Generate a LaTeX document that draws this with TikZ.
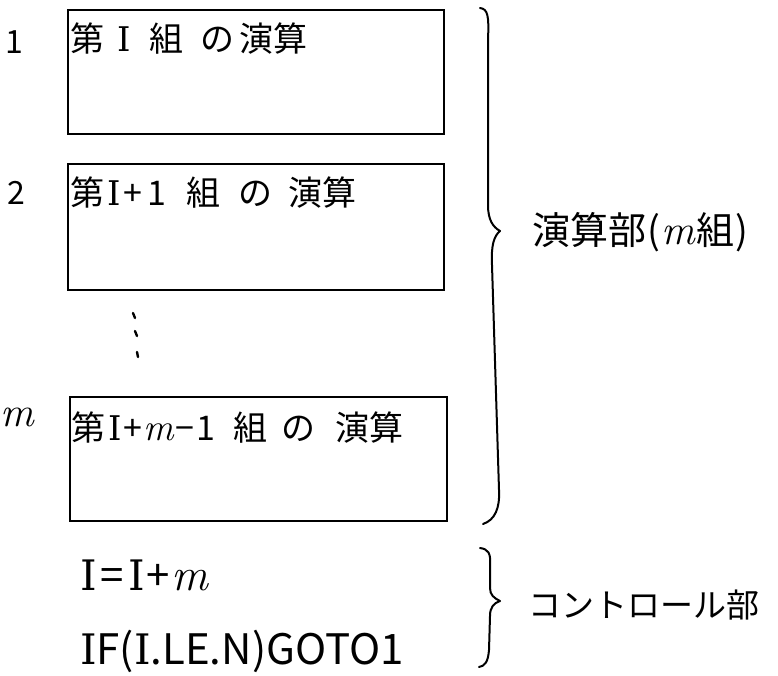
\documentclass[tikz,border=0pt]{standalone}
\usepackage{fontspec}
\newfontfamily\jp{Noto Sans CJK JP}
\newfontfamily\serifI{DejaVu Serif}
\newfontfamily\lmr{Latin Modern Roman}
\newcommand{\Ich}{{\serifI I}}
\newcommand{\mvar}{{\lmr\itshape m}}
\begin{document}
\begin{tikzpicture}[x=1pt,y=-1pt,
  opbox/.style={draw, line width=1.8pt, anchor=north west, inner sep=0pt, minimum width=376pt, minimum height=124pt},
  boxtext/.style={anchor=west, inner sep=0pt, font=\jp\fontsize{34}{40}\selectfont},
  numlabel/.style={inner sep=0pt, font=\jp\fontsize{32}{38}\selectfont},
  sidetext/.style={anchor=west, inner sep=0pt, font=\jp\fontsize{38}{44}\selectfont},
  codetext/.style={anchor=base west, inner sep=0pt, font=\jp\fontsize{42}{48}\selectfont},
  bracepath/.style={line width=2pt, line cap=round, line join=round},
  dotstroke/.style={line width=2.4pt, line cap=round}]
\useasboundingbox (0,0) rectangle (778,675);
% boxes
\node[opbox] (b1) at (67,9) {};
\node[opbox, minimum height=126pt] (b2) at (67,163) {};
\node[opbox, minimum width=377pt] (b3) at (69,396) {};
% box texts
\node[boxtext] (t1) at ([xshift=3pt,yshift=-30pt]b1.north west) {第\hspace{13pt}\Ich\hspace{19pt}組\hspace{17pt}の\hspace{5pt}演算};
\node[boxtext] (t2) at ([xshift=3pt,yshift=-30pt]b2.north west) {第\hspace{3pt}\Ich\hspace{3pt}+\hspace{5pt}1\hspace{20pt}組\hspace{18pt}の\hspace{16pt}演算};
\node[boxtext] (t3) at ([xshift=2pt,yshift=-32pt]b3.north west) {第\hspace{3pt}\Ich\hspace{2pt}+\hspace{1pt}{\fontsize{38}{40}\selectfont\mvar}\hspace{2pt}−\hspace{2pt}1\hspace{18pt}組\hspace{14pt}の\hspace{20pt}演算};
% row numbers
\node[numlabel] (n1) at (14,42) {1};
\node[numlabel] (n2) at (16,193) {2};
\node[numlabel, font=\fontsize{42}{46}\selectfont] (nm) at (17,417) {\mvar};
% vertical dots
\draw[dotstroke] (133,313) -- (135,318);
\draw[dotstroke] (135,331) -- (137,336);
\draw[dotstroke] (137,352) -- (138,357);
% big brace
\draw[bracepath] (480,8) .. controls (488,9) and (489,16) .. (488,40)
  -- (488,205) .. controls (488,220) and (493,227) .. (500,231)
  .. controls (494,236) and (491,245) .. (492,265)
  -- (499,490) .. controls (500,508) and (495,520) .. (483,524);
\node[sidetext] (lab1) at (532,232) {演算部\hspace{1pt}(\hspace{1pt}{\fontsize{42}{44}\selectfont\mvar}\hspace{2pt}組\hspace{1pt})};
% control part
\node[codetext] (c1) at (80,590) {\Ich\hspace{4pt}=\hspace{4pt}\Ich\hspace{2pt}+\hspace{1pt}{\fontsize{46}{48}\selectfont\mvar}};
\node[codetext] (c2) at (80,664) {\Ich F(\Ich.LE.N)GOTO1};
\draw[bracepath] (480,548) .. controls (488,549) and (491,553) .. (490,565)
  -- (490,588) .. controls (490,595) and (494,598) .. (500,601)
  .. controls (494,603) and (490,607) .. (490,616)
  -- (489,650) .. controls (488,662) and (485,666) .. (479,667);
\node[sidetext, font=\jp\fontsize{33}{38}\selectfont] (lab2) at (528,605) {コントロール部};
\end{tikzpicture}
\end{document}
